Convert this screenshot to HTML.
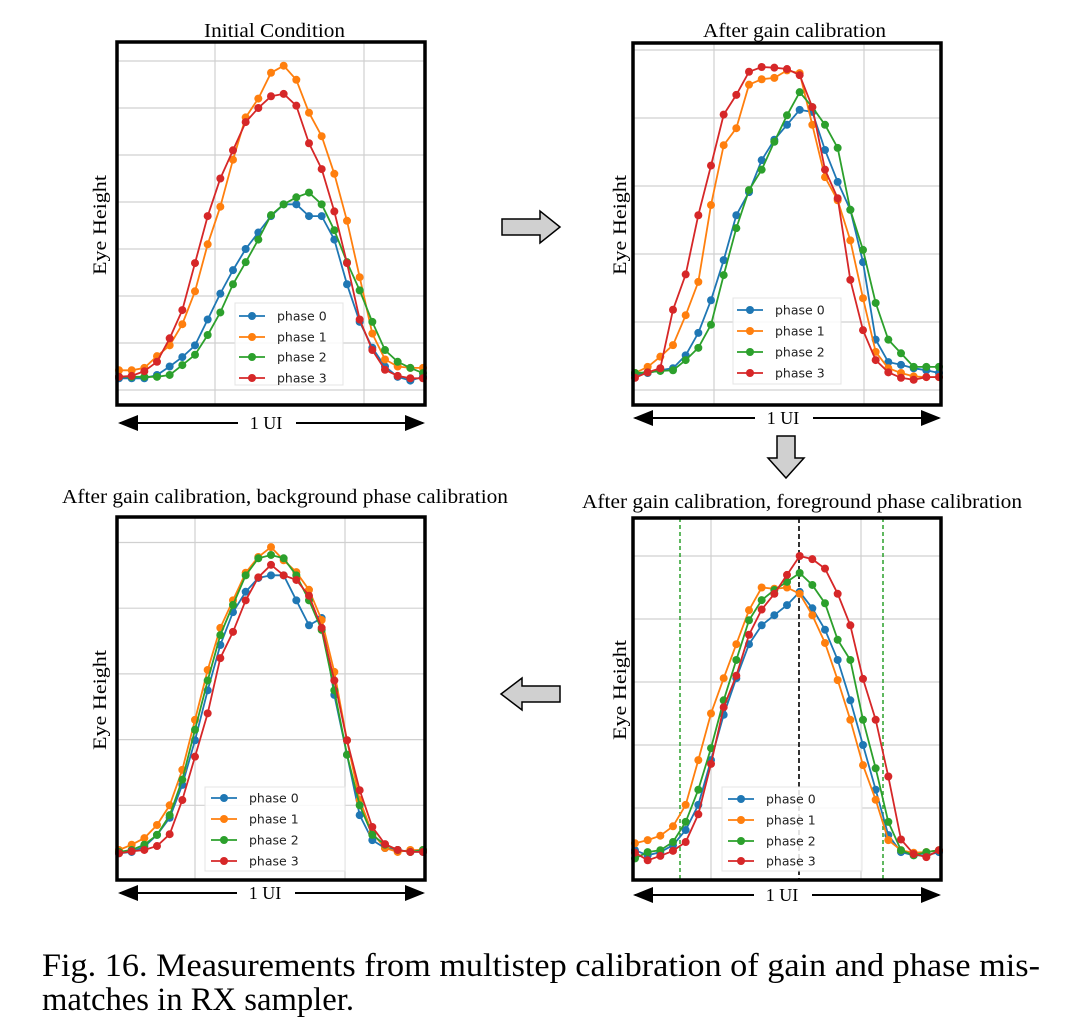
<!DOCTYPE html>
<html><head><meta charset="utf-8"><style>
html,body{margin:0;padding:0;background:#fff;}
svg{display:block;}
.serif{font-family:"Liberation Serif",serif;}
.sans{font-family:"DejaVu Sans","Liberation Sans",sans-serif;}
</style></head><body>
<svg id="fig" width="1080" height="1027" viewBox="0 0 1080 1027" xmlns="http://www.w3.org/2000/svg">
<defs>
<marker id="ah" markerWidth="10" markerHeight="8" refX="9" refY="4" orient="auto"><path d="M0,0 L10,4 L0,8 Z" fill="#000"/></marker>
<marker id="ahs" markerWidth="10" markerHeight="8" refX="1" refY="4" orient="auto"><path d="M10,0 L0,4 L10,8 Z" fill="#000"/></marker>
</defs>
<g id="panels"></g>
<polygon points="502,219 540,219 540,211 560,227 540,243 540,235 502,235" fill="#d0d0d0" stroke="#000" stroke-width="1.5"/>
<polygon points="777,436 795,436 795,458 804,458 786,478 768,458 777,458" fill="#d0d0d0" stroke="#000" stroke-width="1.5"/>
<polygon points="560,686 522,686 522,678 501,694 522,710 522,702 560,702" fill="#d0d0d0" stroke="#000" stroke-width="1.5"/>
<text class="serif" x="42" y="976" font-size="33" textLength="998" lengthAdjust="spacingAndGlyphs">Fig. 16.  Measurements from multistep calibration of gain and phase mis-</text>
<text class="serif" x="42" y="1010" font-size="33" textLength="312" lengthAdjust="spacingAndGlyphs">matches in RX sampler.</text>
</svg>
<script>
// Eye height samples (grid units), 25 equally spaced points across 1 UI
const p1_phase0=[0.25,0.25,0.25,0.32,0.5,0.7,0.95,1.5,2.05,2.55,3.0,3.35,3.7,3.95,3.95,3.7,3.7,3.2,2.25,1.45,0.9,0.5,0.28,0.2,0.28];
const p1_phase1=[0.42,0.42,0.47,0.72,0.95,1.4,2.1,3.1,3.9,4.9,5.8,6.2,6.75,6.9,6.6,5.9,5.4,4.6,3.6,2.4,1.2,0.65,0.5,0.47,0.47];
const p1_phase2=[0.28,0.28,0.28,0.28,0.32,0.53,0.75,1.17,1.65,2.25,2.72,3.2,3.72,3.95,4.1,4.2,3.95,3.4,2.72,2.12,1.45,0.85,0.6,0.47,0.36];
const p1_phase3=[0.28,0.3,0.4,0.6,1.1,1.7,2.7,3.7,4.5,5.1,5.7,6.0,6.25,6.3,6.05,5.25,4.7,3.8,2.7,1.5,0.85,0.43,0.3,0.25,0.25];
const p2_phase0=[0.22,0.25,0.29,0.32,0.51,0.84,1.32,1.91,2.57,2.91,3.38,3.68,3.9,4.12,4.09,3.53,3.06,2.65,1.88,0.74,0.41,0.37,0.32,0.29,0.25];
const p2_phase1=[0.25,0.34,0.49,0.66,1.1,1.59,2.72,3.6,3.85,4.49,4.57,4.59,4.7,4.66,3.9,3.13,2.79,2.2,1.35,0.56,0.32,0.25,0.2,0.19,0.19];
const p2_phase2=[0.25,0.26,0.28,0.29,0.44,0.62,0.96,1.69,2.38,2.94,3.24,3.65,4.04,4.38,4.16,3.9,3.56,2.65,2.06,1.28,0.74,0.54,0.34,0.34,0.34];
const p2_phase3=[0.18,0.26,0.32,1.18,1.7,2.57,3.3,4.05,4.34,4.68,4.75,4.74,4.72,4.63,4.16,3.24,2.82,1.62,0.88,0.44,0.26,0.18,0.15,0.19,0.19];
const p3_phase0=[0.27,0.29,0.37,0.55,0.81,1.31,1.99,2.75,3.44,3.94,4.25,4.46,4.5,4.5,4.12,3.74,3.85,2.68,1.77,0.85,0.47,0.35,0.32,0.29,0.29];
const p3_phase1=[0.32,0.4,0.5,0.7,1.0,1.54,2.3,3.06,3.7,4.12,4.54,4.78,4.93,4.73,4.55,4.28,3.82,3.03,1.99,1.08,0.58,0.35,0.29,0.32,0.32];
const p3_phase2=[0.29,0.32,0.4,0.55,0.85,1.39,2.15,2.9,3.59,4.05,4.5,4.76,4.81,4.76,4.5,4.12,3.67,2.75,1.77,1.0,0.55,0.4,0.32,0.29,0.32];
const p3_phase3=[0.27,0.3,0.32,0.38,0.56,1.08,1.74,2.4,3.24,3.64,4.12,4.47,4.66,4.5,4.43,4.19,3.7,2.9,1.99,1.23,0.67,0.41,0.32,0.29,0.29];
const p4_phase0=[0.33,0.25,0.3,0.41,0.65,1.05,1.76,2.48,3.06,3.6,3.9,4.06,4.22,4.43,4.17,3.83,3.35,2.71,2.0,1.29,0.57,0.3,0.25,0.25,0.3];
const p4_phase1=[0.44,0.49,0.56,0.71,1.05,1.76,2.5,3.06,3.6,4.14,4.5,4.48,4.5,4.4,4.06,3.62,3.03,2.4,1.68,1.13,0.49,0.33,0.29,0.3,0.33];
const p4_phase2=[0.2,0.3,0.33,0.46,0.78,1.29,1.95,2.71,3.35,3.98,4.3,4.46,4.59,4.73,4.54,4.25,3.67,3.35,2.4,1.63,0.78,0.33,0.25,0.3,0.33];
const p4_phase3=[0.29,0.17,0.24,0.32,0.46,0.9,1.7,2.6,3.1,3.75,4.15,4.4,4.7,5.0,4.95,4.8,4.4,3.9,3.05,2.4,1.5,0.5,0.27,0.22,0.33];
const seriesNames=["phase 0","phase 1","phase 2","phase 3"];
const colors=["#1f77b4","#ff7f0e","#2ca02c","#d62728"];

const NS="http://www.w3.org/2000/svg";
function mk(tag,attrs,parent){const e=document.createElementNS(NS,tag);for(const k in attrs)e.setAttribute(k,attrs[k]);parent.appendChild(e);return e;}
const root=document.getElementById('panels');

const panels=[
 {id:'initial',title:'Initial Condition',tx:204,tl:141,ty:37,bx:117,by:42,bw:308,bh:363,px0:119,px1:423,y0:390,unit:47,hgrid:[0,1,2,3,4,5,6,7],vgrid:[215,364],data:[p1_phase0,p1_phase1,p1_phase2,p1_phase3],lx:235,ly:303,lw:108,lh:82,ey:[316,337,357,378],yl:[100,225],ui:[118,425,423,266],extra:false},
 {id:'gain',title:'After gain calibration',tx:703,tl:183,ty:37,bx:633,by:43,bw:308,bh:362,px0:635,px1:939,y0:390,unit:68,hgrid:[0,1,2,3,4,5],vgrid:[714,864],data:[p2_phase0,p2_phase1,p2_phase2,p2_phase3],lx:733,ly:298,lw:108,lh:86,ey:[310,331,352,373],yl:[620,225],ui:[633,941,418,783],extra:false},
 {id:'background',title:'After gain calibration, background phase calibration',tx:62,tl:446,ty:503,bx:117,by:517,bw:308,bh:363,px0:119,px1:423,y0:871,unit:65.7,hgrid:[1,2,3,4,5],vgrid:[195,345],data:[p3_phase0,p3_phase1,p3_phase2,p3_phase3],lx:205,ly:787,lw:140,lh:84,ey:[798,819,840,861],yl:[100,700],ui:[118,425,893,265],extra:false},
 {id:'foreground',title:'After gain calibration, foreground phase calibration',tx:582,tl:440,ty:508,bx:633,by:518,bw:308,bh:362,px0:635,px1:939,y0:871,unit:63,hgrid:[1,2,3,4,5],vgrid:[711,861],data:[p4_phase0,p4_phase1,p4_phase2,p4_phase3],lx:722,ly:787,lw:140,lh:84,ey:[799,820,841,861],yl:[620,690],ui:[633,941,895,782],extra:true}
];

panels.forEach(P=>{
 const g=mk('g',{},root);
 
 
 const xs=i=>P.px0+i*(P.px1-P.px0)/24;
 const ys=v=>P.y0-v*P.unit;
 const t=mk('text',{x:P.tx,y:P.ty,'font-size':20,class:'serif',textLength:P.tl,lengthAdjust:'spacingAndGlyphs'},g);t.textContent=P.title;
 
 
 const grid=mk('g',{stroke:'#d0d0d0','stroke-width':1.2},g);
 
 
 P.hgrid.forEach(v=>{const y=ys(v);if(y>P.by&&y<P.by+P.bh)mk('line',{x1:P.bx,x2:P.bx+P.bw,y1:y,y2:y},grid);});
 P.vgrid.forEach(x=>mk('line',{x1:x,x2:x,y1:P.by,y2:P.by+P.bh},grid));
 if(P.extra){
  const d1=mk('line',{x1:680,x2:680,y1:P.by,y2:P.by+P.bh,stroke:'#2ca02c','stroke-dasharray':'4,3','stroke-width':1.5},g);
  
  
  const d2=mk('line',{x1:883,x2:883,y1:P.by,y2:P.by+P.bh,stroke:'#2ca02c','stroke-dasharray':'4,3','stroke-width':1.5},g);
  
  
  const d3=mk('line',{x1:799,x2:799,y1:P.by,y2:P.by+P.bh,stroke:'#000','stroke-dasharray':'5,3','stroke-width':1.6},g);
  
  
 }
 P.data.forEach((arr,si)=>{
  const sg=mk('g',{},g);
  
  
  const pts=arr.map((v,i)=>xs(i).toFixed(1)+','+ys(v).toFixed(1)).join(' ');
  mk('polyline',{points:pts,fill:'none',stroke:colors[si],'stroke-width':1.8},sg);
  arr.forEach((v,i)=>{const c=mk('circle',{cx:xs(i),cy:ys(v),r:4,fill:colors[si]},sg);
   
   });
 });
 const lg=mk('g',{},g);
 
 
 mk('rect',{x:P.lx,y:P.ly,width:P.lw,height:P.lh,fill:'#fff','fill-opacity':0.85,stroke:'#e4e4e4'},lg);
 seriesNames.forEach((n,si)=>{
  const e=mk('g',{},lg);
  
  
  const lx=P.lx+(P.lw>120?6:4);
  mk('line',{x1:lx,x2:lx+26,y1:P.ey[si],y2:P.ey[si],stroke:colors[si],'stroke-width':1.8},e);
  mk('circle',{cx:lx+13,cy:P.ey[si],r:4,fill:colors[si]},e);
  const tt=mk('text',{x:lx+38,y:P.ey[si]+4.5,'font-size':12.5,class:'sans',fill:'#222'},e);tt.textContent=n;
 });
 const fr=mk('rect',{x:P.bx,y:P.by,width:P.bw,height:P.bh,fill:'none',stroke:'#000','stroke-width':3.5},g);
 
 
 const yl=mk('text',{x:0,y:0,transform:'translate('+(P.yl[0]+6)+','+(P.yl[1]+50)+') rotate(-90)','font-size':19,class:'serif',textLength:100,lengthAdjust:'spacingAndGlyphs'},g);yl.textContent='Eye Height';
 
 
 const [ux0,ux1,uy,utx]=P.ui;
 const ua=mk('g',{},g);
 
 
 mk('line',{x1:ux0+2,x2:utx-28,y1:uy,y2:uy,stroke:'#000','stroke-width':2,'marker-start':'url(#ahs)'},ua);
 mk('line',{x1:utx+30,x2:ux1-2,y1:uy,y2:uy,stroke:'#000','stroke-width':2,'marker-end':'url(#ah)'},ua);
 const ut=mk('text',{x:utx,y:uy+6,'text-anchor':'middle','font-size':18,class:'serif'},ua);ut.textContent='1 UI';
});
</script>
</body></html>
